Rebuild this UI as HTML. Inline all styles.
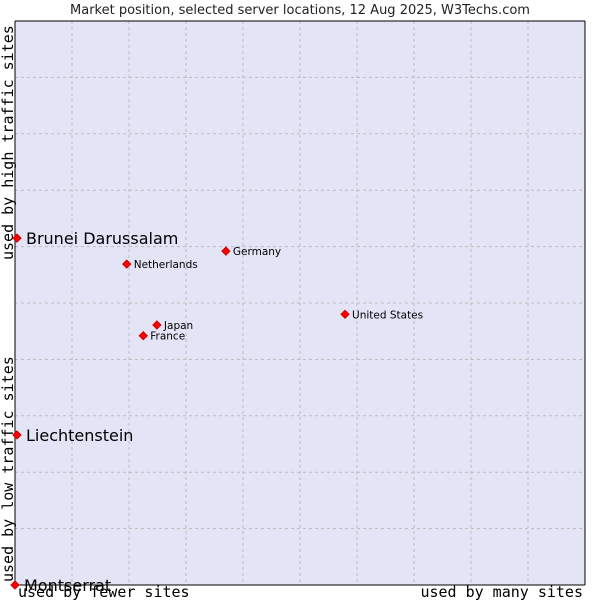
<!DOCTYPE html>
<html><head><meta charset="utf-8"><style>
body{margin:0;background:#fff;}
svg text{font-family:"DejaVu Sans",sans-serif;}
.mono{font-family:"DejaVu Sans Mono","Liberation Mono",monospace;}
</style></head><body>
<svg id="chart" width="600" height="600">
<rect x="0" y="0" width="600" height="600" fill="#fff"/>
<text x="300" y="14" text-anchor="middle" font-size="13" fill="#222">Market position, selected server locations, 12 Aug 2025, W3Techs.com</text>
<rect x="15" y="21" width="570" height="564" fill="#e4e4f7"/>
<g id="grid"></g>
<line x1="15" y1="21" x2="585" y2="21" stroke="#000"/>
<line x1="15" y1="21" x2="15" y2="585" stroke="#000"/>
<line x1="15" y1="585" x2="585" y2="585" stroke="#000"/>
<line x1="585" y1="21" x2="585" y2="585" stroke="#000"/>
<g id="points"></g>
<text class="mono" x="18" y="597" font-size="15">used by fewer sites</text>
<text class="mono" x="583" y="597" font-size="15" text-anchor="end">used by many sites</text>
<text class="mono" transform="translate(13,260) rotate(-90)" font-size="15">used by high traffic sites</text>
<text class="mono" transform="translate(13,582) rotate(-90)" font-size="15">used by low traffic sites</text>
</svg>
<script>
const names=["Brunei Darussalam","Liechtenstein","Montserrat","Germany","Netherlands","United States","Japan","France"];
const xVals=[0.35,0.35,0,37,19.6,57.9,24.9,22.5];
const yVals=[61.5,26.6,0,59.2,56.9,48.0,46.1,44.2];
const big=[true,true,true,false,false,false,false,false];
const X0=15,X1=585,Y0=585,Y1=21;
const sx=v=>X0+(X1-X0)*v/100, sy=v=>Y0-(Y0-Y1)*v/100;
const NS="http://www.w3.org/2000/svg";
const grid=document.getElementById('grid'),pts=document.getElementById('points');
for(let i=1;i<10;i++){
  const v=document.createElementNS(NS,'line');
  v.setAttribute('x1',sx(i*10));v.setAttribute('x2',sx(i*10));v.setAttribute('y1',Y1);v.setAttribute('y2',Y0);
  v.setAttribute('stroke','#bbb');v.setAttribute('stroke-dasharray','3,3');
  
  
  grid.appendChild(v);
  const h=document.createElementNS(NS,'line');
  h.setAttribute('y1',sy(i*10));h.setAttribute('y2',sy(i*10));h.setAttribute('x1',X0);h.setAttribute('x2',X1);
  h.setAttribute('stroke','#bbb');h.setAttribute('stroke-dasharray','3,3');
  
  
  grid.appendChild(h);
}
names.forEach((n,i)=>{
  const x=sx(xVals[i])+(xVals[i]>0.1||i==2?0:0),y=sy(yVals[i]);
  const d=document.createElementNS(NS,'path');
  d.setAttribute('d',`M${x-4},${y}L${x},${y-4}L${x+4},${y}L${x},${y+4}Z`);
  d.setAttribute('fill','#f00');d.setAttribute('stroke','#c00');
  
  
  pts.appendChild(d);
  const t=document.createElementNS(NS,'text');
  t.setAttribute('x',x+(big[i]?9:7));t.setAttribute('y',y+(big[i]?6:4));
  t.setAttribute('font-size',big[i]?'16':'10.5');t.setAttribute('fill','#000');
  t.textContent=n;
  
  
  pts.appendChild(t);
});
</script>
</body></html>
